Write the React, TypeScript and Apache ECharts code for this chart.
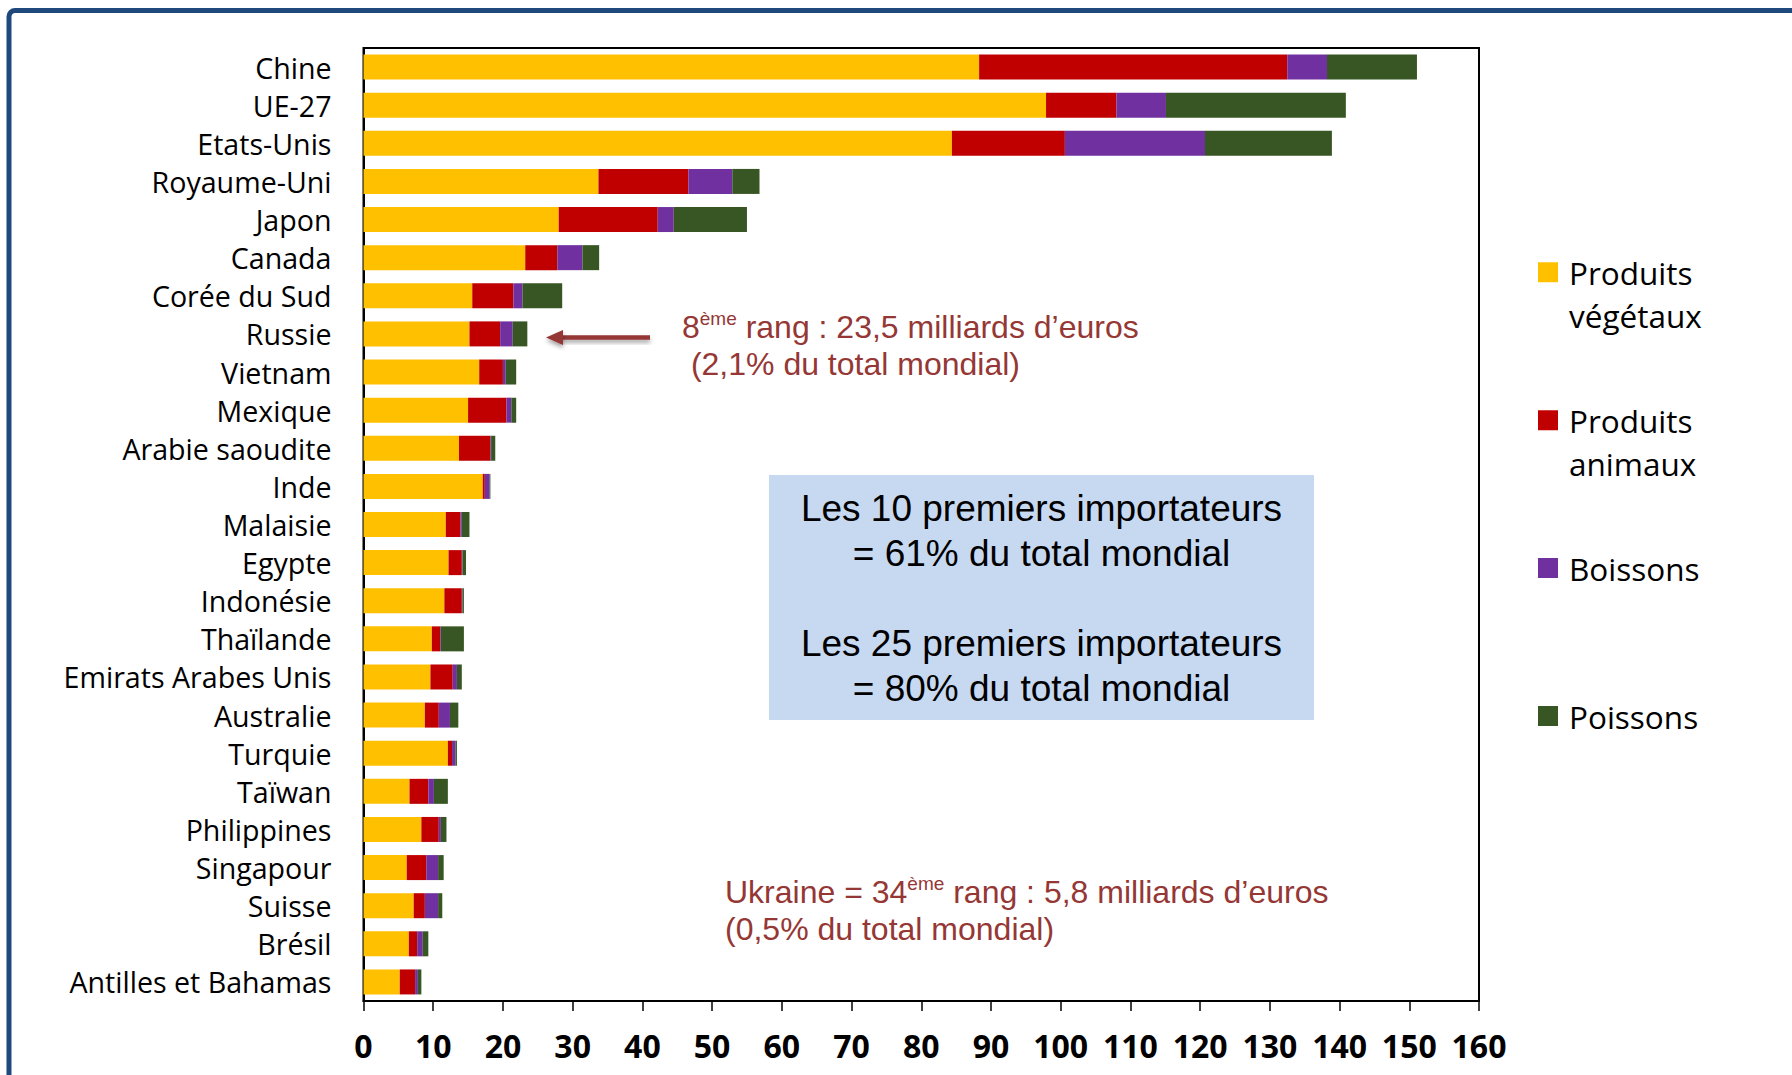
import React, { useEffect, useRef } from 'react';
import * as echarts from 'echarts';

const countries = [
  'Chine', 'UE-27', 'Etats-Unis', 'Royaume-Uni', 'Japon', 'Canada', 'Corée du Sud', 'Russie',
  'Vietnam', 'Mexique', 'Arabie saoudite', 'Inde', 'Malaisie', 'Egypte', 'Indonésie', 'Thaïlande',
  'Emirats Arabes Unis', 'Australie', 'Turquie', 'Taïwan', 'Philippines', 'Singapour', 'Suisse',
  'Brésil', 'Antilles et Bahamas',
];
const produitsVegetaux = [88.3, 97.9, 84.4, 33.7, 28.0, 23.2, 15.6, 15.2, 16.6, 15.0, 13.7, 17.1, 11.8, 12.2, 11.6, 9.8, 9.6, 8.8, 12.1, 6.6, 8.3, 6.2, 7.2, 6.5, 5.2];
const produitsAnimaux = [44.2, 10.1, 16.2, 12.9, 14.2, 4.6, 5.9, 4.4, 3.4, 5.5, 4.5, 0.3, 2.1, 1.9, 2.5, 1.2, 3.2, 2.0, 0.6, 2.7, 2.5, 2.8, 1.6, 1.2, 2.2];
const boissons = [5.7, 7.1, 20.1, 6.3, 2.3, 3.6, 1.3, 1.8, 0.4, 0.7, 0.1, 0.7, 0.2, 0.1, 0.1, 0.1, 0.6, 1.6, 0.5, 0.8, 0.3, 1.7, 1.9, 0.8, 0.4];
const poissons = [12.9, 25.8, 18.2, 3.9, 10.5, 2.4, 5.7, 2.1, 1.5, 0.7, 0.6, 0.1, 1.1, 0.5, 0.2, 3.3, 0.7, 1.2, 0.2, 2.0, 0.8, 0.8, 0.6, 0.8, 0.5];

const seriesNames = ['Produits végétaux', 'Produits animaux', 'Boissons', 'Poissons'];
const seriesColors = ['#FFC000', '#C00000', '#7030A0', '#375623'];
const seriesValues = [produitsVegetaux, produitsAnimaux, boissons, poissons];

const xMin = 0;
const xMax = 160;
const xInterval = 10;

const boxText = [
  'Les 10 premiers importateurs',
  '= 61% du total mondial',
  '',
  'Les 25 premiers importateurs',
  '= 80% du total mondial',
];

const annoColor = '#953735';

export default function App() {
  const ref = useRef<HTMLDivElement>(null);

  useEffect(() => {
    const chart = echarts.init(ref.current!, null, { renderer: 'svg' });

    const legendText = {
      fontFamily: 'Open Sans',
      fontSize: 31.5,
      color: '#000',
      lineHeight: 43.5,
      padding: [0, 0, 0, 6],
    };
    const legendBase = {
      orient: 'vertical',
      left: 1538,
      padding: 0,
      itemWidth: 20,
      itemHeight: 20,
      icon: 'rect',
      selectedMode: false,
      formatter: (n: string) => (n.startsWith('Produits') ? '\n' + n.replace(' ', '\n') : n),
      textStyle: legendText,
    };
    const legendTops = [207, 355, 546.25, 694.25];

    const rich = {
      n: { fontFamily: 'Liberation Sans', fontSize: 32, lineHeight: 37, fill: annoColor, color: annoColor },
      s: { fontFamily: 'Liberation Sans', fontSize: 19, lineHeight: 22, verticalAlign: 'top', fill: annoColor, color: annoColor },
    };

    const shadow = {
      shadowBlur: 4,
      shadowOffsetY: 3,
      shadowColor: 'rgba(0,0,0,0.35)',
    };

    const option: any = {
      animation: false,
      backgroundColor: '#ffffff',
      grid: {
        left: 363.5,
        right: 313,
        top: 48,
        bottom: 74,
        show: true,
        borderColor: '#000',
        borderWidth: 2,
        containLabel: false,
      },
      xAxis: {
        type: 'value',
        min: xMin,
        max: xMax,
        interval: xInterval,
        splitLine: { show: false },
        axisLine: { show: true, lineStyle: { color: '#000', width: 2 } },
        axisTick: { show: true, length: 10, lineStyle: { color: '#000', width: 1.5 } },
        axisLabel: {
          fontFamily: 'Open Sans',
          fontWeight: 'bold',
          fontSize: 32,
          color: '#000',
          margin: 28,
        },
      },
      yAxis: {
        type: 'category',
        data: countries,
        inverse: true,
        axisTick: { show: false },
        axisLine: { show: true, lineStyle: { color: '#000', width: 2 } },
        axisLabel: {
          fontFamily: 'Open Sans',
          fontSize: 28.6,
          color: '#000',
          margin: 32,
        },
      },
      legend: legendTops.map((t, i) => ({
        ...legendBase,
        top: t,
        data: [seriesNames[i]],
      })),
      series: seriesNames.map((name, i) => ({
        name,
        type: 'bar',
        stack: 'total',
        barWidth: 25,
        itemStyle: { color: seriesColors[i] },
        emphasis: { disabled: true },
        data: seriesValues[i],
      })),
      graphic: [
        {
          type: 'rect',
          silent: true,
          z: 100,
          shape: { x: 9, y: 10.5, width: 1800, height: 1100, r: 6 },
          style: { fill: 'none', stroke: '#1F497D', lineWidth: 5 },
        },
        {
          type: 'rect',
          silent: true,
          shape: { x: 769, y: 475, width: 545, height: 245 },
          style: { fill: '#C6D9F1' },
        },
        {
          type: 'text',
          silent: true,
          x: 1041.5,
          y: 598,
          style: {
            text: boxText.join('\n'),
            fontFamily: 'Liberation Sans',
            fontSize: 37,
            lineHeight: 45,
            fill: '#000',
            align: 'center',
            verticalAlign: 'middle',
            textAlign: 'center',
            textVerticalAlign: 'middle',
          },
        },
        {
          type: 'rect',
          silent: true,
          shape: { x: 560, y: 335.3, width: 90, height: 4.5 },
          style: { fill: annoColor, ...shadow },
        },
        {
          type: 'polygon',
          silent: true,
          shape: { points: [[546, 337.5], [563, 330], [563, 345]] },
          style: { fill: annoColor, ...shadow },
        },
        {
          type: 'text',
          silent: true,
          x: 682,
          y: 308.5,
          style: {
            text: '{n|8}{s|ème}{n| rang : 23,5 milliards d’euros}\n{n| (2,1% du total mondial)}',
            rich,
            fill: annoColor,
            align: 'left',
            verticalAlign: 'top',
            textAlign: 'left',
            textVerticalAlign: 'top',
          },
        },
        {
          type: 'text',
          silent: true,
          x: 725,
          y: 873.5,
          style: {
            text: '{n|Ukraine = 34}{s|ème}{n| rang : 5,8 milliards d’euros}\n{n|(0,5% du total mondial)}',
            rich,
            fill: annoColor,
            align: 'left',
            verticalAlign: 'top',
            textAlign: 'left',
            textVerticalAlign: 'top',
          },
        },
      ],
    };

    chart.setOption(option);
    return () => chart.dispose();
  }, []);

  return (
    <div
      ref={ref}
      style={{ position: 'absolute', left: 0, top: 0, width: 1792, height: 1075, background: '#fff' }}
    />
  );
}
